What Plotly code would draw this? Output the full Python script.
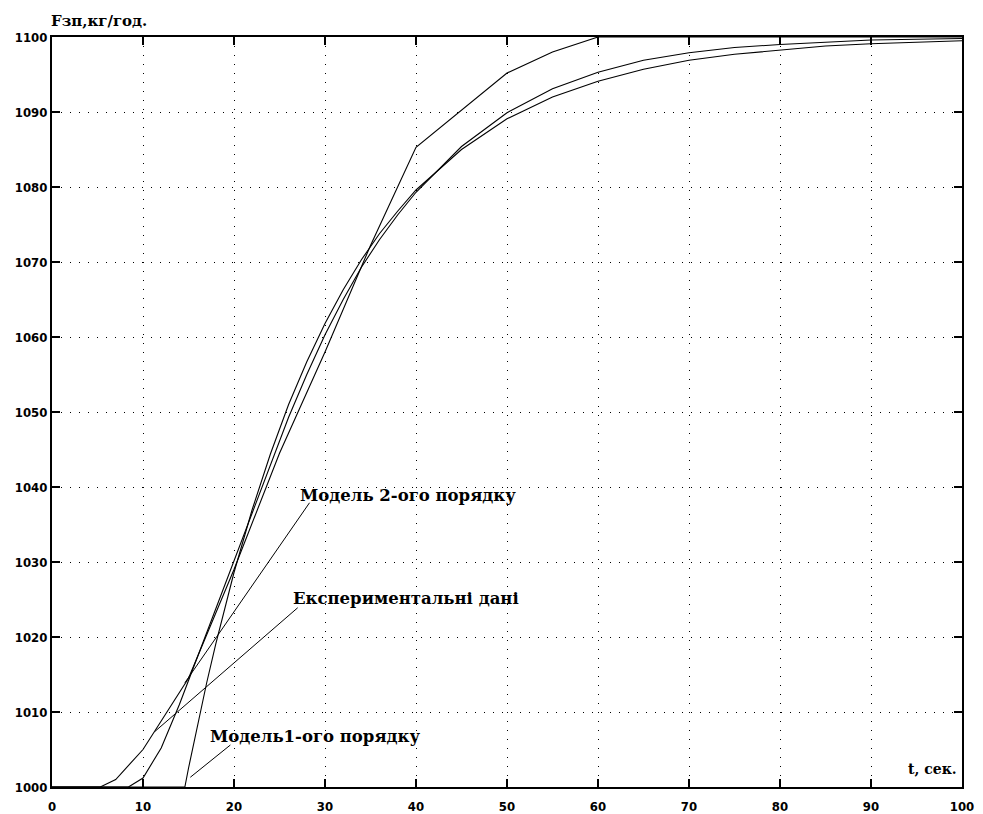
import plotly.graph_objects as go

# Experimental data (piecewise linear)
t_exp = [0, 5.3, 7, 10, 15, 20, 25, 30, 35, 40, 50, 55, 60, 100]
f_exp = [1000, 1000, 1001, 1005, 1014.5, 1029, 1044.5, 1058, 1072.2, 1085.3, 1095.2, 1098, 1100, 1100]

# First-order model
t_m1 = [0, 14.6, 15, 16, 17, 18, 20, 22, 24, 26, 28, 30, 32, 34, 36, 38, 40,
        45, 50, 55, 60, 65, 70, 75, 80, 85, 90, 95, 100]
f_m1 = [1000, 1000, 1002.5, 1008.4, 1013.9, 1019.1, 1028.6, 1037.0, 1044.4, 1051.0,
        1056.7, 1061.8, 1066.3, 1070.3, 1073.8, 1076.8, 1079.6,
        1085.0, 1089.1, 1092.0, 1094.1, 1095.7, 1096.9, 1097.7, 1098.3, 1098.8,
        1099.1, 1099.3, 1099.5]

# Second-order model
t_m2 = [0, 8.4, 10, 12, 14, 16, 18, 20, 22, 24, 26, 28, 30, 32, 34, 36, 38, 40,
        45, 50, 55, 60, 65, 70, 75, 80, 85, 90, 95, 100]
f_m2 = [1000, 1000, 1001.2, 1005.2, 1011.0, 1017.4, 1023.6, 1030.0, 1036.6, 1043.0,
        1049.3, 1055.0, 1060.3, 1065.0, 1069.3, 1073.0, 1076.3, 1079.3,
        1085.4, 1089.9, 1093.1, 1095.3, 1096.9, 1097.9, 1098.6, 1099.0, 1099.3,
        1099.6, 1099.7, 1099.8]

x_ticks = [0, 10, 20, 30, 40, 50, 60, 70, 80, 90, 100]
y_ticks = [1000, 1010, 1020, 1030, 1040, 1050, 1060, 1070, 1080, 1090, 1100]

label_m2 = "Модель 2-ого порядку"
label_exp = "Експериментальні дані"
label_m1 = "Модель1-ого порядку"
y_title = "Fзп,кг/год."
x_title = "t, сек."

fig = go.Figure()
line_style = dict(color="black", width=1.1)
fig.add_trace(go.Scatter(x=t_exp, y=f_exp, mode="lines", line=line_style, showlegend=False))
fig.add_trace(go.Scatter(x=t_m1, y=f_m1, mode="lines", line=line_style, showlegend=False))
fig.add_trace(go.Scatter(x=t_m2, y=f_m2, mode="lines", line=line_style, showlegend=False))

serif = "DejaVu Serif, Liberation Serif, serif"
tick_font = dict(family="DejaVu Sans Condensed, Liberation Sans Narrow, Liberation Sans, sans-serif",
                 size=13, color="black", weight=700)

axis_common = dict(
    showgrid=True, gridcolor="black", gridwidth=1, griddash="1px,8px",
    ticks="inside", ticklen=8, tickwidth=1.5, tickcolor="black",
    showline=True, linecolor="black", linewidth=2, mirror="ticks",
    zeroline=False, tickfont=tick_font, automargin=False,
)

fig.update_xaxes(range=[0, 100], tickvals=x_ticks, ticktext=[str(v) for v in x_ticks],
                 ticklabelstandoff=6, **axis_common)
fig.update_yaxes(range=[1000, 1100], tickvals=y_ticks, ticktext=[str(v) for v in y_ticks],
                 **axis_common)

ann_font = dict(family=serif, size=16.5, color="black", weight=700)
annotations = [
    dict(x=27.0, y=1038.9, text=label_m2, xanchor="left", yanchor="middle"),
    dict(x=26.3, y=1025.2, text=label_exp, xanchor="left", yanchor="middle"),
    dict(x=17.1, y=1006.7, text=label_m1, xanchor="left", yanchor="middle"),
]
for a in annotations:
    a.update(xref="x", yref="y", showarrow=False, font=ann_font)

annotations.append(dict(xref="paper", yref="paper", x=0, y=1, xanchor="left", yanchor="bottom",
                        yshift=5, xshift=-3, text=y_title, showarrow=False,
                        font=dict(family=serif, size=15, color="black", weight=700)))
annotations.append(dict(xref="paper", yref="paper", x=0.997, y=0.005, xanchor="right", yanchor="bottom",
                        yshift=4, text=x_title, showarrow=False,
                        font=dict(family=serif, size=14, color="black", weight=700)))

shapes = [
    dict(type="line", xref="x", yref="y", x0=28.3, y0=1037.9, x1=14.6, y1=1013.9),
    dict(type="line", xref="x", yref="y", x0=27.0, y0=1023.9, x1=11.3, y1=1007.4),
    dict(type="line", xref="x", yref="y", x0=19.6, y0=1005.6, x1=15.2, y1=1001.3),
]
for s in shapes:
    s.update(line=dict(color="black", width=1))

fig.update_layout(
    width=983, height=814,
    margin=dict(l=52, r=21, t=37, b=27),
    paper_bgcolor="white", plot_bgcolor="white",
    annotations=annotations, shapes=shapes,
    showlegend=False,
)

fig.write_html("out.html")
